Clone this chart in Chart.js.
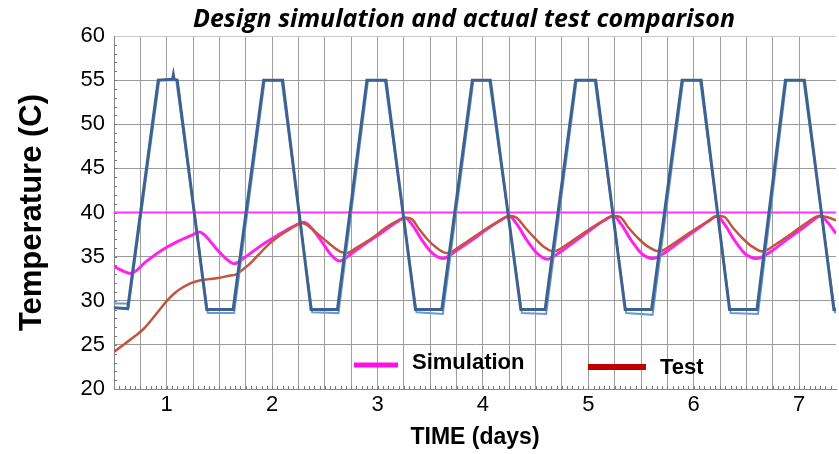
<!DOCTYPE html>
<html>
<head>
<meta charset="utf-8">
<script src="https://cdn.jsdelivr.net/npm/chart.js@4"></script>
<style>
  html, body { margin: 0; padding: 0; background: #fff; }
  #tempChart { display: block; }
</style>
</head>
<body>
<canvas id="tempChart" width="839" height="454"></canvas>
<script>
// chamber profile (two recorder traces)
const chamberDays = [0.50, 0.63, 0.92, 1.055, 1.063, 1.07, 1.10, 1.38, 1.63, 1.92, 2.10, 2.37, 2.62, 2.90, 3.08, 3.36, 3.61, 3.90, 4.07, 4.36, 4.59, 4.88, 5.07, 5.35, 5.60, 5.89, 6.07, 6.34, 6.60, 6.87, 7.05, 7.33, 7.35];
const chamberTemp = [29.2, 29.1, 55.0, 55.1, 55.6, 55.1, 55.0, 29.0, 29.0, 55.0, 55.0, 29.0, 29.0, 55.0, 55.0, 29.0, 29.0, 55.0, 55.0, 29.0, 29.0, 55.0, 55.0, 29.0, 29.0, 55.0, 55.0, 29.0, 29.0, 55.0, 55.0, 29.0, 29.0];
const chamber2Days = [0.50, 0.62, 0.64, 0.93, 1.09, 1.39, 1.64, 1.93, 2.09, 2.38, 2.63, 2.91, 3.07, 3.37, 3.62, 3.91, 4.06, 4.37, 4.60, 4.89, 5.06, 5.36, 5.61, 5.90, 6.06, 6.35, 6.61, 6.88, 7.04, 7.34, 7.35];
const chamber2Temp = [29.7, 29.7, 29.4, 55.0, 55.0, 28.6, 28.6, 55.0, 55.0, 28.7, 28.6, 55.0, 55.0, 28.7, 28.5, 55.0, 55.0, 28.6, 28.5, 55.0, 55.0, 28.6, 28.4, 55.0, 55.0, 28.6, 28.5, 55.0, 55.0, 28.7, 28.7];

// design simulation
const simDays = [0.50, 0.58, 0.66, 0.80, 0.95, 1.10, 1.25, 1.31, 1.38, 1.47, 1.56, 1.64, 1.75, 1.90, 2.05, 2.20, 2.30, 2.37, 2.46, 2.56, 2.64, 2.75, 2.90, 3.05, 3.18, 3.26, 3.33, 3.42, 3.52, 3.62, 3.75, 3.90, 4.05, 4.18, 4.25, 4.32, 4.42, 4.52, 4.61, 4.72, 4.88, 5.03, 5.15, 5.24, 5.31, 5.41, 5.51, 5.61, 5.72, 5.88, 6.03, 6.15, 6.22, 6.29, 6.39, 6.49, 6.60, 6.71, 6.87, 7.02, 7.13, 7.20, 7.27, 7.35];
const simTemp = [33.9, 33.4, 33.1, 34.4, 35.7, 36.7, 37.5, 37.8, 37.2, 35.9, 34.8, 34.2, 35.0, 36.3, 37.4, 38.4, 38.9, 38.3, 36.9, 35.2, 34.5, 35.3, 36.6, 37.8, 38.9, 39.4, 38.6, 36.9, 35.4, 34.8, 35.7, 36.9, 38.2, 39.2, 39.6, 38.7, 36.8, 35.3, 34.7, 35.4, 36.8, 38.1, 39.1, 39.6, 38.7, 36.8, 35.3, 34.8, 35.4, 36.8, 38.1, 39.1, 39.6, 38.7, 36.8, 35.3, 34.8, 35.4, 36.8, 38.1, 39.1, 39.6, 38.9, 37.6];

// measured test
const testDays = [0.50, 0.60, 0.70, 0.78, 0.86, 0.94, 1.01, 1.08, 1.15, 1.23, 1.31, 1.40, 1.50, 1.58, 1.66, 1.72, 1.79, 1.87, 1.96, 2.05, 2.14, 2.22, 2.28, 2.33, 2.40, 2.48, 2.57, 2.66, 2.71, 2.80, 2.95, 3.08, 3.18, 3.28, 3.33, 3.39, 3.47, 3.56, 3.66, 3.80, 3.96, 4.12, 4.26, 4.32, 4.40, 4.50, 4.58, 4.67, 4.80, 4.96, 5.12, 5.24, 5.30, 5.38, 5.48, 5.57, 5.67, 5.80, 5.96, 6.12, 6.23, 6.29, 6.37, 6.47, 6.56, 6.65, 6.78, 6.94, 7.08, 7.19, 7.26, 7.35];
const testTemp = [24.2, 25.1, 26.0, 26.8, 27.9, 29.1, 30.1, 30.9, 31.5, 32.0, 32.3, 32.45, 32.6, 32.8, 33.0, 33.5, 34.2, 35.2, 36.3, 37.2, 37.9, 38.5, 38.8, 38.6, 37.9, 37.1, 36.2, 35.5, 35.4, 36.0, 37.1, 38.3, 39.0, 39.4, 39.2, 38.2, 37.0, 36.0, 35.4, 36.3, 37.6, 38.8, 39.6, 39.4, 38.3, 37.0, 36.1, 35.6, 36.4, 37.7, 38.9, 39.6, 39.5, 38.3, 37.0, 36.1, 35.6, 36.4, 37.7, 38.9, 39.6, 39.5, 38.3, 37.0, 36.1, 35.6, 36.4, 37.7, 38.9, 39.6, 39.5, 39.1];

// 40 C limit
const limitDays = [0.5, 7.35];
const limitTemp = [40, 40];

const yTicks = [20, 25, 30, 35, 40, 45, 50, 55, 60];
const xTickLabels = ["1", "2", "3", "4", "5", "6", "7"];

const pts = (xs, ys) => xs.map((x, i) => ({ x: x, y: ys[i] }));

// title + in-plot legend + minor ticks
const decorations = {
  id: "decorations",
  afterDatasetsDraw(chart) {
    const { ctx, scales } = chart;
    const xs = scales.x, ys = scales.y;
    ctx.save();
    // minor ticks
    ctx.strokeStyle = "#777";
    ctx.lineWidth = 1;
    ctx.beginPath();
    for (let v = 21; v < 60; v++) {
      const py = Math.round(ys.getPixelForValue(v)) + 0.5;
      ctx.moveTo(xs.left, py);
      ctx.lineTo(xs.left + 3, py);
    }
    for (let k = 11; k < 147; k++) {
      const px = Math.round(xs.getPixelForValue(k * 0.05)) + 0.5;
      ctx.moveTo(px, ys.bottom);
      ctx.lineTo(px, ys.bottom - 3);
    }
    ctx.stroke();

    // legend
    ctx.lineCap = "butt";
    ctx.strokeStyle = "#ff10e0";
    ctx.lineWidth = 5;
    ctx.beginPath();
    ctx.moveTo(354, 365);
    ctx.lineTo(398, 365);
    ctx.stroke();
    ctx.strokeStyle = "#c00000";
    ctx.lineWidth = 6;
    ctx.beginPath();
    ctx.moveTo(588, 367);
    ctx.lineTo(646, 367);
    ctx.stroke();
    ctx.fillStyle = "#000";
    ctx.font = "bold 22px 'Liberation Sans', Arial, sans-serif";
    ctx.textAlign = "left";
    ctx.textBaseline = "middle";
    ctx.fillText("Simulation", 412, 363);
    ctx.fillText("Test", 660, 368);

    // title
    ctx.font = "italic bold 25px 'Open Sans', sans-serif";
    ctx.textAlign = "center";
    ctx.fillText("Design simulation and actual test comparison", 464, 20);
    ctx.restore();
  }
};

window.addEventListener("load", () => {
  const ctx = document.getElementById("tempChart").getContext("2d");

  new Chart(ctx, {
    type: "line",
    data: {
      datasets: [
        {
          label: "Chamber",
          data: pts(chamberDays, chamberTemp),
          borderColor: "#3d6290",
          borderWidth: 3,
          tension: 0
        },
        {
          label: "Chamber 2",
          data: pts(chamber2Days, chamber2Temp),
          borderColor: "#6a9ad2",
          borderWidth: 2,
          tension: 0
        },
        {
          label: "Test",
          data: pts(testDays, testTemp),
          borderColor: "#c1553f",
          borderWidth: 2.5,
          cubicInterpolationMode: "monotone"
        },
        {
          label: "Simulation",
          data: pts(simDays, simTemp),
          borderColor: "#ff22ee",
          borderWidth: 3,
          cubicInterpolationMode: "monotone"
        },
        {
          label: "Limit",
          data: pts(limitDays, limitTemp),
          borderColor: "#ff33ff",
          borderWidth: 2,
          tension: 0
        }
      ]
    },
    options: {
      responsive: false,
      devicePixelRatio: 1,
      animation: false,
      elements: { point: { radius: 0, hoverRadius: 0 } },
      layout: { padding: { top: 36, right: 0, left: 0, bottom: 0 } },
      plugins: {
        legend: { display: false },
        title: { display: false },
        tooltip: { enabled: false }
      },
      scales: {
        x: {
          type: "linear",
          min: 0.5,
          max: 7.35,
          afterFit: s => { s.height = 65; },
          border: { color: "#858585" },
          grid: {
            drawTicks: false,
            color: c => (Math.abs(c.tick.value * 4 - Math.round(c.tick.value * 4)) < 1e-6 ? "#9e9e9e" : "rgba(0,0,0,0)")
          },
          ticks: {
            stepSize: 0.25,
            autoSkip: false,
            maxRotation: 0,
            padding: 3,
            color: "#000",
            font: { family: "'Liberation Sans', Arial, sans-serif", size: 22 },
            callback: v => {
              const i = Math.round(v);
              return Math.abs(v - i) < 1e-6 && i >= 1 ? xTickLabels[i - 1] : "";
            }
          },
          title: {
            display: true,
            text: "TIME (days)",
            color: "#000",
            font: { family: "'Liberation Sans', Arial, sans-serif", size: 23, weight: "bold" },
            padding: { top: 0, bottom: 3 }
          }
        },
        y: {
          min: 20,
          max: 60,
          afterFit: s => { s.width = 114; },
          afterBuildTicks: s => { s.ticks = yTicks.map(v => ({ value: v })); },
          border: { color: "#858585" },
          grid: {
            drawTicks: false,
            color: c => (c.tick.value === 60 ? "#c8c8c8" : "#9a9a9a")
          },
          ticks: {
            padding: 9,
            color: "#000",
            font: { family: "'Liberation Sans', Arial, sans-serif", size: 22 }
          },
          title: {
            display: true,
            text: "Temperature (C)",
            color: "#000",
            font: { family: "'Liberation Sans', Arial, sans-serif", size: 31, weight: "bold" },
            padding: { top: 14, bottom: 0 }
          }
        }
      }
    },
    plugins: [decorations]
  });
});
</script>
</body>
</html>
